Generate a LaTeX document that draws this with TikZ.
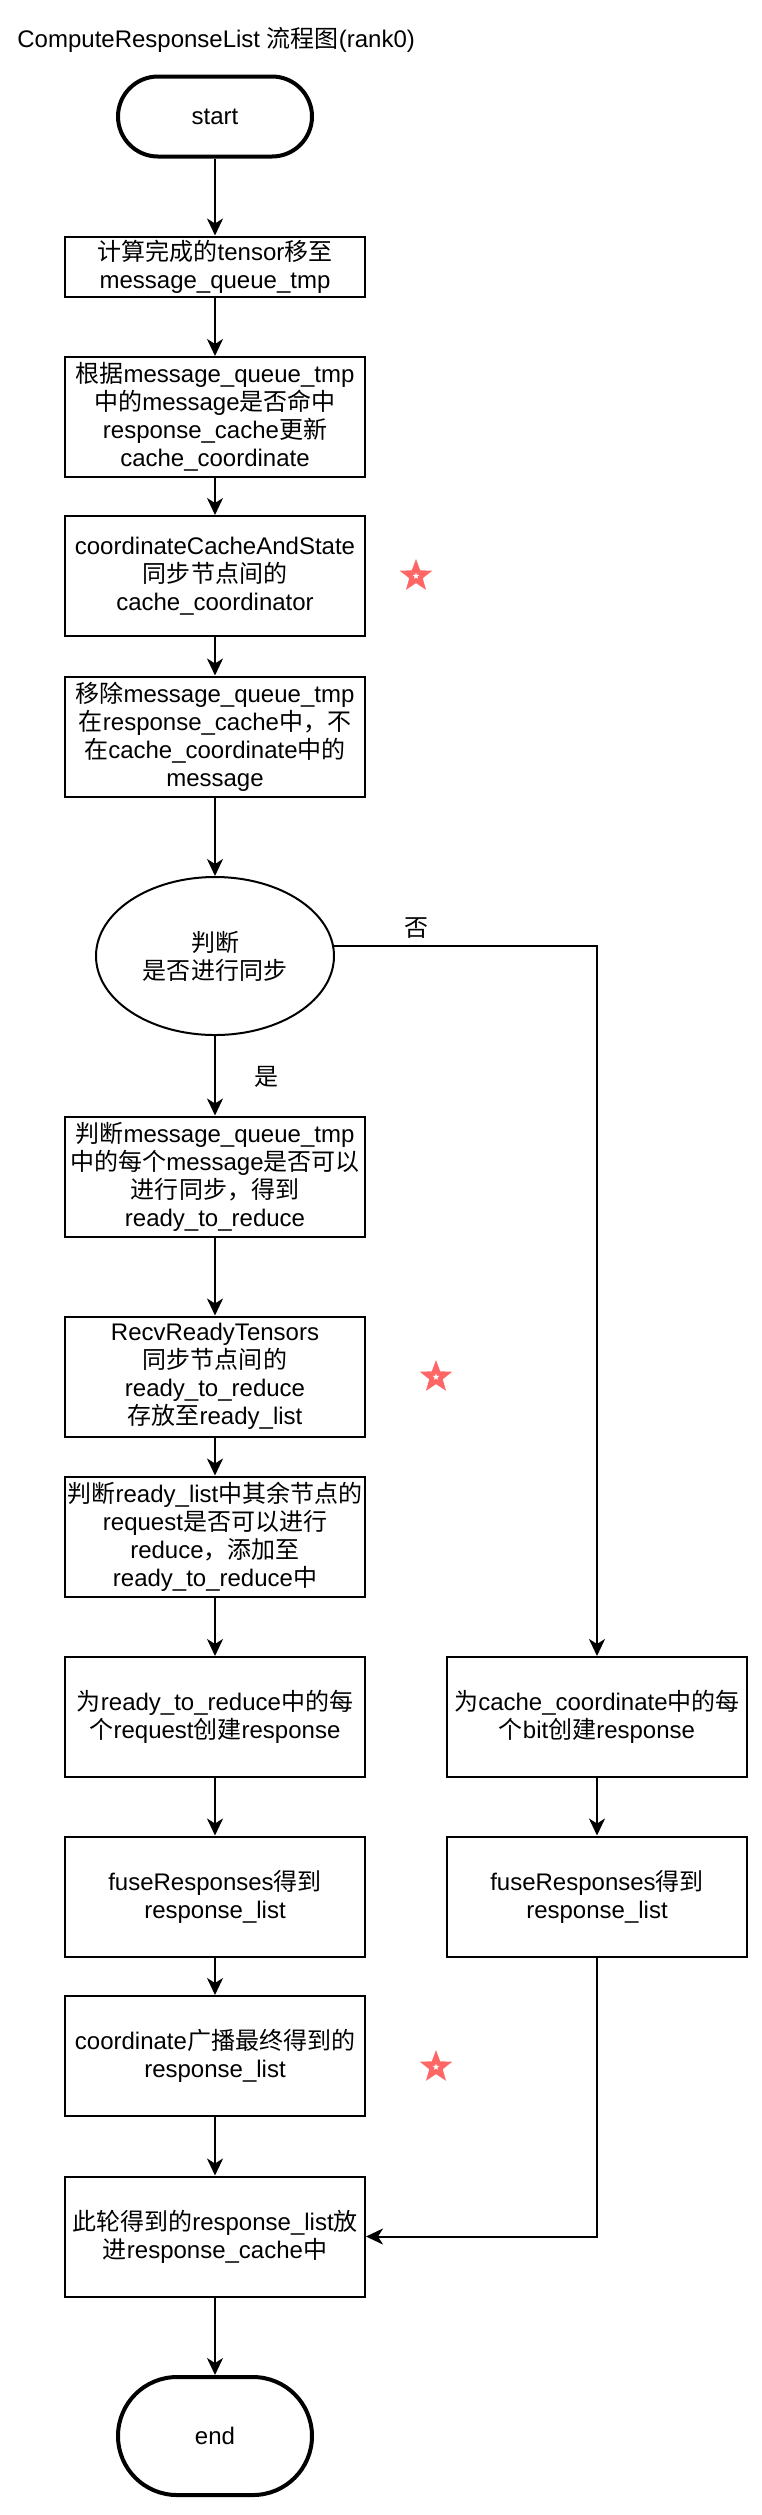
\documentclass[tikz,border=0pt]{standalone}
\usepackage{fontspec}
\setmainfont{Liberation Sans}
\newfontfamily\cjk{Noto Sans CJK SC}
\usetikzlibrary{shapes.geometric,arrows.meta}
\newcommand\zh[1]{{\cjk #1}}
\newcommand\fs{\fontsize{12bp}{14bp}\selectfont}
\definecolor{starred}{HTML}{FF6666}
\begin{document}
\begin{tikzpicture}[x=0.5bp,y=-0.5bp,
  box/.style={draw=black, line width=1bp, minimum width=150bp, minimum height=60bp, inner sep=0pt, align=center, font=\fs},
  shortbox/.style={box, minimum height=30bp},
  term/.style={draw=black, line width=2bp, minimum width=97bp, inner sep=0pt, align=center, font=\fs},
  decision/.style={draw=black, ellipse, line width=1bp, minimum width=119bp, minimum height=79bp, inner sep=0pt, align=center, font=\fs},
  arr/.style={draw=black, line width=1bp, -{Stealth[length=8.5bp,width=8bp,inset=2.5bp]}},
  lbl/.style={inner sep=0pt, font=\fs},
  redstar/.style={star, star points=5, star point ratio=2.4, fill=starred, draw=none, inner sep=0pt, minimum size=17bp},
  whitestar/.style={star, star points=5, star point ratio=2.4, fill=white, draw=none, inner sep=0pt, minimum size=3.5bp}
]
\useasboundingbox (0,0) rectangle (762,2515);

\node[lbl, anchor=base west] (title) at (17,47) {ComputeResponseList \zh{流程图}(rank0)};

\node[term, minimum height=40bp, rounded corners=20bp] (start) at (215,116.5) {start};
\node[shortbox] (b1) at (215,266.5) {\zh{计算完成的}tensor\zh{移至}\\message\_queue\_tmp};
\node[box] (b2) at (215,417) {\zh{根据}message\_queue\_tmp\\\zh{中的}message\zh{是否命中}\\response\_cache\zh{更新}\\cache\_coordinate};
\node[box] (b3) at (215,576) {coordinateCacheAndState\\\zh{同步节点间的}\\cache\_coordinator};
\node[box] (b4) at (215,736.5) {\zh{移除}message\_queue\_tmp\\\zh{在}response\_cache\zh{中，不}\\\zh{在}cache\_coordinate\zh{中的}\\message};
\node[decision] (dec) at (215,956) {\zh{判断}\\\zh{是否进行同步}};
\node[box] (b5) at (215,1176.5) {\zh{判断}message\_queue\_tmp\\\zh{中的每个}message\zh{是否可以}\\\zh{进行同步，得到}\\ready\_to\_reduce};
\node[box] (b6) at (215,1376.5) {RecvReadyTensors\\\zh{同步节点间的}\\ready\_to\_reduce\\\zh{存放至}ready\_list};
\node[box] (b7) at (215,1536.5) {\zh{判断}ready\_list\zh{中其余节点的}\\request\zh{是否可以进行}\\reduce\zh{，添加至}\\ready\_to\_reduce\zh{中}};
\node[box] (b8) at (215,1717) {\zh{为}ready\_to\_reduce\zh{中的每}\\\zh{个}request\zh{创建}response};
\node[box] (r8) at (597,1717) {\zh{为}cache\_coordinate\zh{中的每}\\\zh{个}bit\zh{创建}response};
\node[box] (b9) at (215,1896.5) {fuseResponses\zh{得到}\\response\_list};
\node[box] (r9) at (597,1896.5) {fuseResponses\zh{得到}\\response\_list};
\node[box] (b10) at (215,2056) {coordinate\zh{广播最终得到的}\\response\_list};
\node[box] (b11) at (215,2236.5) {\zh{此轮得到的}response\_list\zh{放}\\\zh{进}response\_cache\zh{中}};
\node[term, minimum height=59bp, rounded corners=29.5bp] (end) at (215,2436) {end};

\node[lbl] (no) at (416,928) {\zh{否}};
\node[lbl] (yes) at (266,1077) {\zh{是}};

\node[redstar] (s1) at (416,576) {};
\node[whitestar] (w1) at (s1.center) {};
\node[redstar] (s2) at (436,1377) {};
\node[whitestar] (w2) at (s2.center) {};
\node[redstar] (s3) at (436,2067) {};
\node[whitestar] (w3) at (s3.center) {};

\draw[arr] (start) -- (b1);
\draw[arr] (b1) -- (b2);
\draw[arr] (b2) -- (b3);
\draw[arr] (b3) -- (b4);
\draw[arr] (b4) -- (dec);
\draw[arr] (dec) -- (b5);
\draw[arr] (dec.5) -| (r8.north);
\draw[arr] (b5) -- (b6);
\draw[arr] (b6) -- (b7);
\draw[arr] (b7) -- (b8);
\draw[arr] (b8) -- (b9);
\draw[arr] (r8) -- (r9);
\draw[arr] (b9) -- (b10);
\draw[arr] (b10) -- (b11);
\draw[arr] (r9.south) |- (b11.east);
\draw[arr] (b11) -- (end);
\end{tikzpicture}
\end{document}
